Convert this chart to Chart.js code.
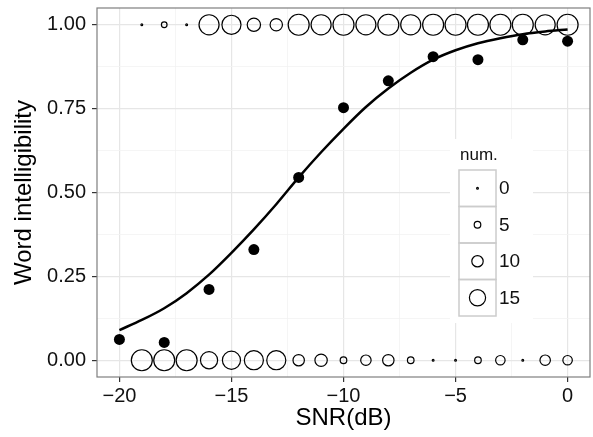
<!DOCTYPE html>
<html><head><meta charset="utf-8">
<script src="https://cdn.jsdelivr.net/npm/chart.js@4"></script>
<style>html,body{margin:0;padding:0;background:#fff}canvas{display:block}</style>
</head><body>
<canvas id="c" width="593" height="437"></canvas>
<script>
// ---- data ----
const snr = [-19,-18,-17,-16,-15,-14,-13,-12,-11,-10,-9,-8,-7,-6,-5,-4,-3,-2,-1,0];
const numCorrect = [0,4,0,19,18,12,11,20,19,20,19,20,19,20,20,20,20,20,19,20];   // y = 1 row
const numWrong   = [20,20,20,16,17,18,18,10,11,5,9,10,5,0,0,5,8,0,9,8];         // y = 0 row
const meanSnr  = [-20,-18,-16,-14,-12,-10,-8,-6,-4,-2,0];
const meanVals = [0.062,0.053,0.211,0.33,0.545,0.753,0.833,0.905,0.896,0.955,0.951];
const curveSnr  = [-20,-19,-18,-17,-16,-15,-14,-13,-12,-11,-10,-9,-8,-7,-6,-5,-4,-3,-2,-1,0];
const curveVals = [0.09,0.12,0.155,0.2,0.255,0.32,0.39,0.465,0.545,0.62,0.69,0.755,0.81,0.857,0.896,0.924,0.945,0.96,0.972,0.98,0.986];
const xMajor = [-20,-15,-10,-5,0];
const xMinor = [-17.5,-12.5,-7.5,-2.5];
const xLabels = ['\u221220','\u221215','\u221210','\u22125','0'];
const yMajor = [0,0.25,0.5,0.75,1];
const yMinor = [0.125,0.375,0.625,0.875];
const yLabels = ['0.00','0.25','0.50','0.75','1.00'];
const legendBreaks = [0,5,10,15];
const legendTitle = 'num.';

const FONT = '"Liberation Sans", Arial, Helvetica, sans-serif';
Chart.defaults.font.family = FONT;
Chart.defaults.color = '#111';

const sizeR = n => 0.9 + 0.48 * n;   // size scale (linear radius)

const topRow = snr.map((x,i)=>({x, y:1, n:numCorrect[i]}));
const botRow = snr.map((x,i)=>({x, y:0, n:numWrong[i]}));
const means = meanSnr.map((x,i)=>({x, y:meanVals[i]}));
const curve = curveSnr.map((x,i)=>({x, y:curveVals[i]}));

const gridColor = (major) => ctx => major.includes(ctx.tick && ctx.tick.value) ? '#e6e6e6' : '#f3f3f3';
const gridWidth = (major) => ctx => major.includes(ctx.tick && ctx.tick.value) ? 1.2 : 0.8;
const tickColor = (major) => ctx => major.includes(ctx.tick && ctx.tick.value) ? '#333' : 'rgba(0,0,0,0)';

const panelPlugin = {
  id: 'panel',
  afterDatasetsDraw(chart) {
    const {ctx, chartArea: a} = chart;
    ctx.save();
    ctx.strokeStyle = '#7f7f7f';
    ctx.lineWidth = 1.2;
    ctx.strokeRect(a.left, a.top, a.right - a.left, a.bottom - a.top);
    ctx.restore();
  },
  afterDraw(chart) {
    const {ctx} = chart;
    ctx.save();
    // legend background
    ctx.fillStyle = '#fff';
    ctx.fillRect(450, 139, 83, 184);
    ctx.fillStyle = '#111';
    ctx.font = '17px ' + FONT;
    ctx.textBaseline = 'middle';
    ctx.textAlign = 'left';
    ctx.fillText(legendTitle, 460, 155);
    const kx = 459, kw = 37, kh = 36.5, ky0 = 170;
    legendBreaks.forEach((b, i) => {
      const ky = ky0 + i * kh;
      ctx.strokeStyle = '#cccccc';
      ctx.lineWidth = 1.5;
      ctx.strokeRect(kx, ky, kw, kh);
      ctx.beginPath();
      ctx.arc(kx + kw/2, ky + kh/2, sizeR(b), 0, Math.PI*2);
      ctx.strokeStyle = '#000';
      ctx.lineWidth = 1.2;
      ctx.stroke();
      ctx.fillStyle = '#111';
      ctx.font = '19px ' + FONT;
      ctx.fillText(String(b), kx + kw + 3, ky + kh/2 + 1);
    });
    ctx.restore();
  }
};

new Chart(document.getElementById('c'), {
  type: 'scatter',
  data: {
    datasets: [
      { type: 'line', data: curve, borderColor: '#000', borderWidth: 2.5, pointRadius: 0,
        tension: 0.4, cubicInterpolationMode: 'monotone', fill: false, order: 0 },
      { data: means, backgroundColor: '#000', borderColor: '#000', pointRadius: 5.5, borderWidth: 0, order: 1 },
      { data: topRow.concat(botRow), backgroundColor: 'rgba(0,0,0,0)', borderColor: '#000', borderWidth: 1.2,
        pointRadius: ctx => sizeR(ctx.raw ? ctx.raw.n : 0), order: 2 }
    ]
  },
  options: {
    responsive: false,
    animation: false,
    layout: { autoPadding: false, padding: { left: 0, right: 3, top: 8, bottom: 0 } },
    plugins: { legend: { display: false }, tooltip: { enabled: false } },
    scales: {
      x: {
        type: 'linear', min: -21, max: 1,
        afterBuildTicks: s => { s.ticks = xMajor.concat(xMinor).sort((a,b)=>a-b).map(v=>({value:v})); },
        afterFit: s => { s.height = 60; s.paddingLeft = 0; s.paddingRight = 0; },
        ticks: { autoSkip: false, maxRotation: 0, padding: 2, color: '#111', font: { size: 20 },
          callback: v => { const k = xMajor.indexOf(v); return k >= 0 ? xLabels[k] : ''; } },
        grid: { color: gridColor(xMajor), lineWidth: gridWidth(xMajor), tickColor: tickColor(xMajor), tickLength: 5, tickWidth: 1.2 },
        border: { display: false },
        title: { display: true, text: 'SNR(dB)', color: '#000', font: { size: 24 }, padding: { top: 0, bottom: 4 } }
      },
      y: {
        type: 'linear', min: -0.05, max: 1.05,
        afterBuildTicks: s => { s.ticks = yMajor.concat(yMinor).sort((a,b)=>a-b).map(v=>({value:v})); },
        afterFit: s => { s.width = 97; s.paddingTop = 0; s.paddingBottom = 0; },
        ticks: { autoSkip: false, padding: 6, color: '#111', font: { size: 20 },
          callback: v => { const k = yMajor.indexOf(v); return k >= 0 ? yLabels[k] : ''; } },
        grid: { color: gridColor(yMajor), lineWidth: gridWidth(yMajor), tickColor: tickColor(yMajor), tickLength: 5, tickWidth: 1.2 },
        border: { display: false },
        title: { display: true, text: 'Word intelligibility', color: '#000', font: { size: 24 }, padding: { top: 10, bottom: 0 } }
      }
    }
  },
  plugins: [panelPlugin]
});
</script>
</body></html>
